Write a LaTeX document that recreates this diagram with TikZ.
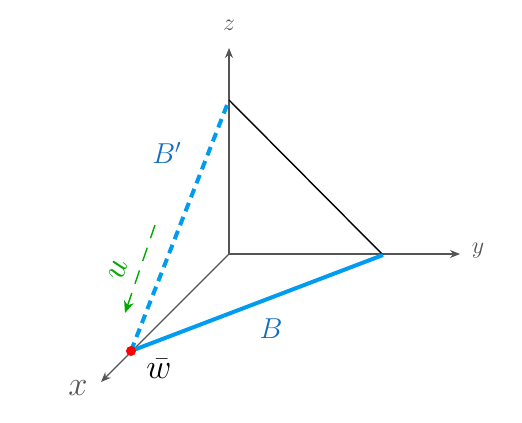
\documentclass[tikz,border=0pt]{standalone}
\usepackage{amsmath}
\usepackage{tkz-euclide}
\usetikzlibrary{arrows.meta}
\definecolor{axisgray}{RGB}{85,85,85}
\definecolor{edgeblue}{RGB}{0,156,240}
\definecolor{textblue}{RGB}{20,110,190}
\definecolor{dirgreen}{RGB}{0,170,0}
\begin{document}
\begin{tikzpicture}[x=0.5pt,y=-0.5pt,
    axis/.style={axisgray,line width=0.65pt,-{Stealth[length=5pt,width=4pt]}},
    edge/.style={edgeblue,line width=2pt}]
                    \useasboundingbox (0,0) rectangle (522,422);
                    \tkzDefPoints{229/254/O,229/48/Z,460/254/Y,101/382/X,229/100/A,383/255/C,131/351/W}
                    \tkzDefPoints{155/225/u1,125/313/u2}
                    \draw[axis] (O) -- (Z);
                    \draw[axis] (O) -- (Y);
                    \draw[axis] (O) -- (X);
                    \draw[black,line width=0.7pt] (A) -- (C);
                    \draw[edge] (W) -- (C);
                    \draw[edge,dash pattern=on 4.5pt off 3pt] (W) -- (A);
                    \draw[dirgreen,line width=0.7pt,dash pattern=on 7pt off 5pt,
                      -{Stealth[length=6pt,width=5pt]}] (u1) -- (u2);
                    \fill[red] (W) circle (2.5pt);
                    \node[axisgray,font=\large] (zl) at (229,25) {$z$};
                    \node[axisgray,font=\large] (yl) at (478,251) {$y$};
                    \node[axisgray,font=\LARGE] (xl) at (78,388) {$x$};
                    \node[font=\LARGE] (wl) at (159,369) {$\bar{w}$};
                    \node[textblue,font=\Large] (Bp) at (167,153) {$B'$};
                    \node[textblue,font=\Large] (Bl) at (271,329) {$B$};
                    \node[dirgreen,font=\LARGE,rotate=71] (ul) at (118,270) {$u$};
                \end{tikzpicture}
\end{document}
